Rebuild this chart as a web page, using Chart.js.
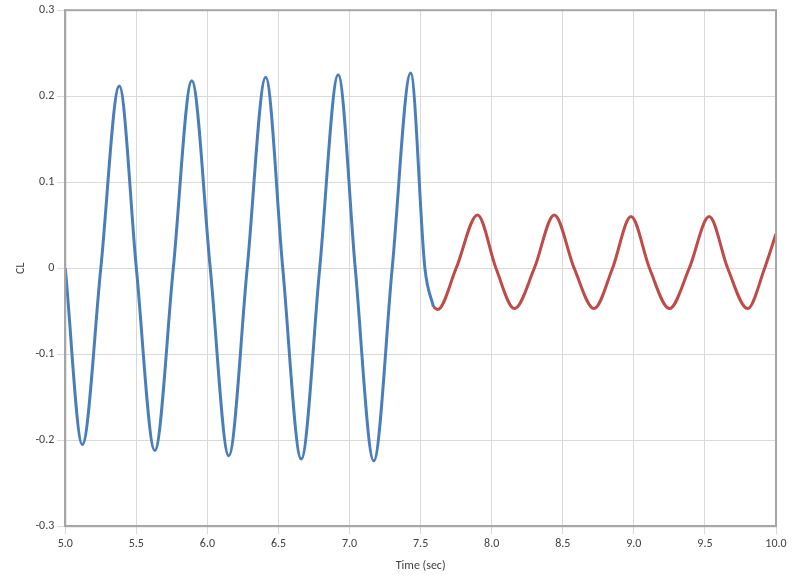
<!DOCTYPE html>
<html>
<head>
<meta charset="utf-8">
<script src="https://cdn.jsdelivr.net/npm/chart.js"></script>
<style>
body { margin: 0; background: #fff; }
</style>
</head>
<body>
<canvas id="chart" width="796" height="579"></canvas>
<script>
// Blue segment: extrema and zero crossings
const blueT = [5, 5.12, 5.25, 5.38, 5.50, 5.63, 5.76, 5.89, 6.02, 6.15, 6.28, 6.41, 6.53, 6.66, 6.79, 6.92, 7.04, 7.17, 7.30, 7.43, 7.53, 7.59];
const blueCL = [0, -0.205, 0, 0.212, 0, -0.212, 0, 0.218, 0, -0.218, 0, 0.222, 0, -0.222, 0, 0.225, 0, -0.224, 0, 0.227, 0, -0.045];
// Red segment
const redT = [7.59, 7.62, 7.75, 7.90, 8.03, 8.16, 8.30, 8.44, 8.58, 8.72, 8.85, 8.98, 9.11, 9.25, 9.39, 9.53, 9.66, 9.80, 9.92, 10];
const redCL = [-0.045, -0.048, 0, 0.062, 0, -0.047, 0, 0.062, 0, -0.047, 0, 0.060, 0, -0.047, 0, 0.060, 0, -0.047, 0, 0.040];

const toPts = (xs, ys) => xs.map((x, i) => ({ x: x, y: ys[i] }));
const fontSpec = { family: 'Calibri, Carlito, "Liberation Sans", sans-serif', size: 12 };

new Chart(document.getElementById('chart'), {
    type: 'line',
    data: {
        datasets: [
            { data: toPts(blueT, blueCL), borderColor: '#4a7ebb', borderWidth: 3, pointRadius: 0, cubicInterpolationMode: 'monotone' },
            { data: toPts(redT, redCL), borderColor: '#be4b48', borderWidth: 3, pointRadius: 0, cubicInterpolationMode: 'monotone' }
        ]
    },
    options: {
        responsive: false,
        animation: false,
        layout: { padding: { left: 10, right: 20, top: 8, bottom: 2 } },
        plugins: { legend: { display: false }, tooltip: { enabled: false } },
        scales: {
            x: {
                type: 'linear', min: 5, max: 10,
                ticks: { stepSize: 0.5, color: '#404040', font: fontSpec },
                grid: { color: '#d9d9d9' },
                border: { color: '#a6a6a6', width: 2 },
                title: { display: true, text: 'Time (sec)', color: '#404040', font: fontSpec }
            },
            y: {
                min: -0.3, max: 0.3,
                ticks: { stepSize: 0.1, color: '#404040', font: fontSpec, callback: v => +v.toFixed(1) },
                grid: { color: '#d9d9d9' },
                border: { color: '#a6a6a6', width: 2 },
                title: { display: true, text: 'CL', color: '#404040', font: fontSpec }
            }
        }
    },
    plugins: [{
        id: 'frame',
        afterDraw(c) {
            const a = c.chartArea, ctx = c.ctx;
            ctx.save();
            ctx.strokeStyle = '#a6a6a6';
            ctx.lineWidth = 2;
            ctx.strokeRect(a.left, a.top, a.right - a.left, a.bottom - a.top);
            ctx.restore();
        }
    }]
});
</script>
</body>
</html>
